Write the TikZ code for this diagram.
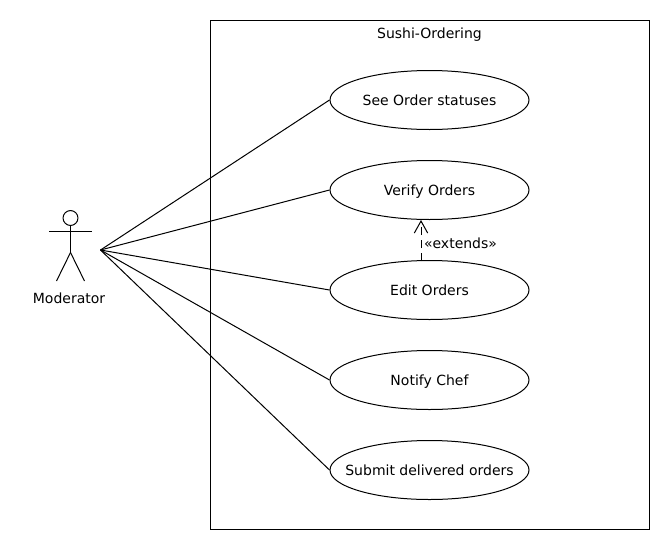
\documentclass[tikz,border=0pt]{standalone}
\usepackage{fontspec}
\setmainfont{DejaVu Sans}
\usetikzlibrary{positioning}
\usetikzlibrary{shapes.geometric}
\usetikzlibrary{arrows.meta}
\tikzset{usecase/.style={draw, ellipse, minimum width=149.25pt, minimum height=44.25pt, inner xsep=-40pt, inner ysep=0pt, text height=8.8pt, text depth=1.2pt, font=\fontsize{10.5pt}{12pt}\selectfont},
         caption/.style={inner sep=0pt, font=\fontsize{10.5pt}{12pt}\selectfont}}
\begin{document}
\begin{tikzpicture}[x=0.75pt,y=-0.75pt,line width=0.75pt]
            \useasboundingbox (0,0) rectangle (670,550);
            % System box
            \draw (210.5,20.5) rectangle (649.5,529.5);
            \node[caption] (title) at (429.5,34.5) {Sushi-Ordering};

            % Use cases
            \node[usecase] (see) at (429.5,100) {See Order statuses};
            \node[usecase] (verify) at (429.5,190) {Verify Orders};
            \node[usecase] (edit) at (429.5,290) {Edit Orders};
            \node[usecase] (notify) at (429.5,380) {Notify Chef};
            \node[usecase] (submit) at (429.5,470) {Submit delivered orders};

            % Actor
            \draw (70.5,218) circle (5.6pt);
            \draw (70.5,225.5) -- (70.5,252.5);
            \draw (49,231) -- (92,231);
            \draw (70.5,252.5) -- (56.5,281);
            \draw (70.5,252.5) -- (84.5,281);
            \node[caption] (moderator) at (69,298.5) {Moderator};
            \coordinate (actor) at (100.5,250);

            % Associations
            \foreach \x in {see, verify, edit, notify, submit} {
                \draw (actor) -- (\x.west);
            }

            % Extends
            \coordinate (editTop) at (421,261);
            \coordinate (verifyBottom) at (421,220);
            \draw[dash pattern=on 6pt off 3.75pt, -{Straight Barb[length=9pt,width=10pt]}] (editTop) -- (verifyBottom);
            \node[caption] (extends) at (460.5,243.5) {«extends»};
        \end{tikzpicture}
\end{document}
